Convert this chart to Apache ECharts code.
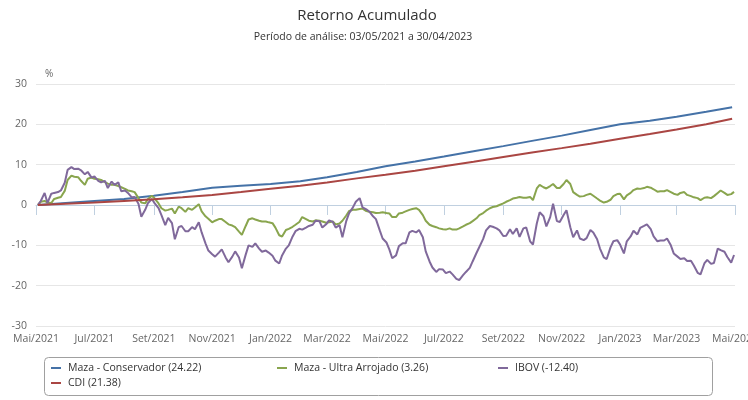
<!DOCTYPE html>
<html>
<head>
<meta charset="utf-8">
<script src="https://cdn.jsdelivr.net/npm/echarts@6/dist/echarts.min.js"></script>
<style>
html,body{margin:0;padding:0;background:#fff;}
#chart{width:748px;height:400px;}
</style>
</head>
<body>
<div id="chart"></div>
<script>
// ---------- data ----------
const seriesNames = ['Maza - Conservador (24.22)', 'Maza - Ultra Arrojado (3.26)', 'IBOV (-12.40)', 'CDI (21.38)'];
const seriesColors = ['#4572A7', '#89A54E', '#80699B', '#AA4643'];

// monthly sample dates for the smooth series
const monthDates = ['2021-05-03','2021-06-01','2021-07-01','2021-08-01','2021-09-01','2021-10-01','2021-11-01','2021-12-01',
  '2022-01-01','2022-02-01','2022-03-01','2022-04-01','2022-05-01','2022-06-01','2022-07-01','2022-08-01','2022-09-01',
  '2022-10-01','2022-11-01','2022-12-01','2023-01-01','2023-02-01','2023-03-01','2023-04-01','2023-04-28'];
const conservadorValues = [0, 0.5, 1.0, 1.5, 2.3, 3.2, 4.3, 4.8, 5.2, 5.9, 6.9, 8.2, 9.6, 10.8, 12.0, 13.3, 14.6,
  15.9, 17.2, 18.6, 20.0, 20.9, 21.9, 23.1, 24.22];
const cdiValues = [0, 0.3, 0.6, 1.0, 1.4, 1.9, 2.5, 3.2, 4.0, 4.8, 5.6, 6.6, 7.5, 8.5, 9.6, 10.7, 11.9,
  13.0, 14.1, 15.2, 16.4, 17.6, 18.7, 20.0, 21.38];

// twice-weekly samples (03/05/2021 .. 30/04/2023) for the volatile series
const fineStart = '2021-05-03';
const fineEnd = '2023-04-30';
const ibovValues = [
  0, 1.0, 3.0, 0.5, 2.8, 3.0, 3.2, 3.6, 5.5, 8.7,
  9.4, 8.9, 9.0, 8.6, 7.6, 8.2, 6.8, 7.1, 6.0, 5.6,
  6.0, 4.2, 5.8, 5.0, 5.6, 3.4, 3.6, 3.0, 1.9, 2.0,
  0.3, -2.9, -1.2, 0.5, 1.5, 0.4, -0.8, -2.5, -5.0, -3.2,
  -4.5, -8.5, -5.5, -5.2, -6.5, -6.5, -5.5, -6.0, -4.3, -6.8,
  -9.5, -11.3, -12.2, -12.8, -11.8, -11.0, -13.0, -14.2, -12.8, -11.5,
  -13.0, -15.7, -12.3, -10.0, -10.4, -9.5, -10.8, -11.6, -11.3, -11.8,
  -12.6, -13.8, -14.5, -12.5, -10.8, -10.0, -7.8, -6.5, -5.9, -6.1,
  -5.6, -5.2, -4.9, -3.9, -4.0, -5.6, -4.8, -3.8, -4.2, -5.6,
  -5.0, -8.0, -4.0, -2.0, -0.6, 0.8, 1.7, -0.6, -1.1, -1.6,
  -2.8, -3.5, -6.3, -8.3, -9.3, -11.0, -13.2, -12.5, -10.2, -9.5,
  -9.5, -6.8, -6.4, -6.8, -6.2, -8.0, -11.5, -14.0, -15.5, -16.6,
  -15.9, -16.0, -16.9, -16.5, -17.2, -18.3, -18.6, -17.4, -16.6, -15.6,
  -14.0, -11.9, -10.4, -8.4, -6.3, -5.2, -5.4, -5.8, -6.3, -7.7,
  -7.6, -6.0, -7.2, -5.8, -7.9, -5.8, -5.6, -9.0, -9.8, -4.6,
  -1.8, -2.8, -5.3, -3.0, 0.3, -4.0, -4.2, -2.5, -1.3, -5.5,
  -8.0, -6.3, -8.3, -8.7, -8.2, -6.2, -6.8, -8.5, -10.8, -13.0,
  -13.4, -10.5, -9.0, -8.7, -9.8, -12.0, -9.0, -7.8, -6.4, -7.3,
  -5.7, -5.2, -4.8, -6.0, -7.8, -9.0, -8.8, -8.8, -8.3, -10.0,
  -12.0, -12.8, -13.4, -13.2, -13.9, -13.8, -15.0, -16.8, -17.2, -14.5,
  -13.6, -14.6, -14.4, -10.8, -11.2, -11.6, -12.9, -14.3, -12.4
];
const ultraValues = [
  0, 0.8, 1.0, 0.6, 0.5, 1.5, 1.8, 2.0, 3.5, 6.2,
  7.3, 7.0, 6.9, 6.0, 5.0, 6.5, 6.8, 6.5, 6.4, 6.2,
  5.7, 5.3, 5.0, 5.0, 4.7, 4.4, 4.0, 3.6, 3.4, 3.2,
  1.7, 0.6, 0.4, 1.5, 2.3, 1.6, 0.4, -0.8, -1.4, -1.2,
  -0.9, -2.1, -0.4, -0.8, -1.7, -0.8, -1.2, -0.6, 0.2, -1.6,
  -2.8, -3.4, -4.3, -3.9, -3.5, -3.5, -4.2, -4.8, -5.1, -5.5,
  -6.6, -7.4, -5.2, -3.6, -3.3, -3.6, -3.9, -4.1, -4.1, -4.3,
  -4.5, -5.6, -7.5, -7.8, -6.2, -5.9, -5.4, -4.9, -4.2, -3.0,
  -3.5, -3.9, -4.1, -3.8, -3.9, -4.1, -4.4, -4.3, -4.1, -4.8,
  -4.6, -3.9, -2.6, -1.5, -1.2, -1.2, -1.0, -0.9, -1.5, -1.7,
  -1.8, -2.0, -1.9, -1.8, -2.0, -2.1, -3.0, -3.0, -2.1, -1.9,
  -1.6, -1.2, -1.0, -0.8, -1.2, -2.5, -3.9, -4.9, -5.2, -5.5,
  -5.8, -6.0, -6.1, -5.8, -6.1, -6.1, -5.8, -5.3, -4.9, -4.5,
  -4.0, -3.3, -2.5, -2.0, -1.4, -0.8, -0.5, -0.3, 0.0, 0.4,
  0.8, 1.2, 1.6, 1.8, 2.0, 1.8, 1.8, 2.0, 1.2, 4.1,
  5.0, 4.4, 4.1, 4.7, 5.2, 4.2, 4.2, 5.2, 6.2, 5.2,
  3.2, 2.5, 2.1, 2.2, 2.5, 2.8, 2.3, 1.6, 1.1, 0.6,
  0.8, 1.3, 2.2, 2.7, 2.8, 1.4, 2.4, 3.0, 3.7, 4.1,
  4.0, 4.2, 4.5, 4.3, 3.9, 3.3, 3.4, 3.4, 3.7, 3.2,
  2.8, 2.5, 3.0, 3.2, 2.5, 2.2, 1.9, 1.7, 1.2, 1.8,
  1.9, 1.7, 2.2, 3.0, 3.6, 3.0, 2.5, 2.7, 3.26
];

// x axis ticks
const xTickDates = ['2021-05-01','2021-07-01','2021-09-01','2021-11-01','2022-01-01','2022-03-01','2022-05-01',
  '2022-07-01','2022-09-01','2022-11-01','2023-01-01','2023-03-01','2023-05-01'];
const xTickLabels = ['Mai/2021','Jul/2021','Set/2021','Nov/2021','Jan/2022','Mar/2022','Mai/2022',
  'Jul/2022','Set/2022','Nov/2022','Jan/2023','Mar/2023','Mai/2023'];
const yTicks = [-30, -20, -10, 0, 10, 20, 30];

// ---------- helpers ----------
function t(s) { const p = s.split('-').map(Number); return Date.UTC(p[0], p[1] - 1, p[2]); }
const DAY = 86400000;
const n = ibovValues.length;
const spanDays = Math.round((t(fineEnd) - t(fineStart)) / DAY);
const fineDates = [];
for (let k = 0; k < n; k++) fineDates.push(t(fineStart) + Math.round(k * spanDays / (n - 1)) * DAY);

const pair = (dates, vals) => vals.map((v, i) => [dates[i], v]);
const monthTs = monthDates.map(t);
const tickTs = xTickDates.map(t);

const font = '"Open Sans", "Noto Sans", sans-serif';
const dataSets = [
  pair(monthTs, conservadorValues),
  pair(fineDates, ultraValues),
  pair(fineDates, ibovValues),
  pair(monthTs, cdiValues)
];

const legendPos = [[51, 361], [277, 361], [498, 361], [51, 376]];

const chart = echarts.init(document.getElementById('chart'), null, { renderer: 'canvas' });
chart.setOption({
  animation: false,
  backgroundColor: '#fff',
  textStyle: { fontFamily: font },
  title: [
    { text: 'Retorno Acumulado', left: 362, top: 3, textAlign: 'center',
      textStyle: { fontSize: 15, fontWeight: 'normal', color: '#333', fontFamily: font } },
    { text: 'Período de análise: 03/05/2021 a 30/04/2023', left: 358, top: 27, textAlign: 'center',
      textStyle: { fontSize: 10.5, fontWeight: 'normal', color: '#333', fontFamily: font } }
  ],
  legend: seriesNames.map((nm, i) => ({
    data: [nm], left: legendPos[i][0], top: legendPos[i][1], icon: 'rect', itemWidth: 10, itemHeight: 2,
    itemGap: 0, padding: 0, selectedMode: false,
    textStyle: { fontSize: 10.5, lineHeight: 14, color: '#333', fontFamily: font, padding: [0, 0, 0, 2] }
  })),
  graphic: [{
    type: 'rect', shape: { x: 44.5, y: 357.5, width: 668, height: 38, r: 4 }, silent: true,
    style: { fill: 'none', stroke: '#A0A0A0', lineWidth: 1 }
  }],
  grid: { left: 36, right: 13, top: 84, bottom: 74, containLabel: false, outerBoundsMode: 'none' },
  xAxis: {
    type: 'value', min: tickTs[0], max: tickTs[tickTs.length - 1],
    axisLine: { show: true, lineStyle: { color: '#C0D0E0', width: 1 } },
    axisTick: { show: true, customValues: tickTs, length: 10, lineStyle: { color: '#C0D0E0' } },
    axisLabel: {
      customValues: tickTs, color: '#666', fontSize: 10.5, fontFamily: font, margin: 8,
      formatter: (v) => { const i = tickTs.indexOf(v); return i >= 0 ? xTickLabels[i] : ''; },
      showMinLabel: true, showMaxLabel: true
    },
    splitLine: { show: false }
  },
  yAxis: {
    type: 'value', min: yTicks[0], max: yTicks[yTicks.length - 1], interval: 10,
    name: '%', nameLocation: 'end', nameGap: 5,
    nameTextStyle: { color: '#666', fontSize: 10, align: 'left', padding: [0, 0, 0, 9], fontFamily: font },
    axisLine: { show: false }, axisTick: { show: false },
    axisLabel: { color: '#666', fontSize: 10.5, margin: 9, fontFamily: font },
    splitLine: { lineStyle: { color: '#E6E6E6', width: 1 } }
  },
  series: seriesNames.map((nm, i) => ({
    name: nm, type: 'line', data: dataSets[i], showSymbol: false, symbol: 'none',
    color: seriesColors[i], lineStyle: { width: 2, color: seriesColors[i] },
    emphasis: { disabled: true }, z: 2 + i
  }))
});
</script>
</body>
</html>
